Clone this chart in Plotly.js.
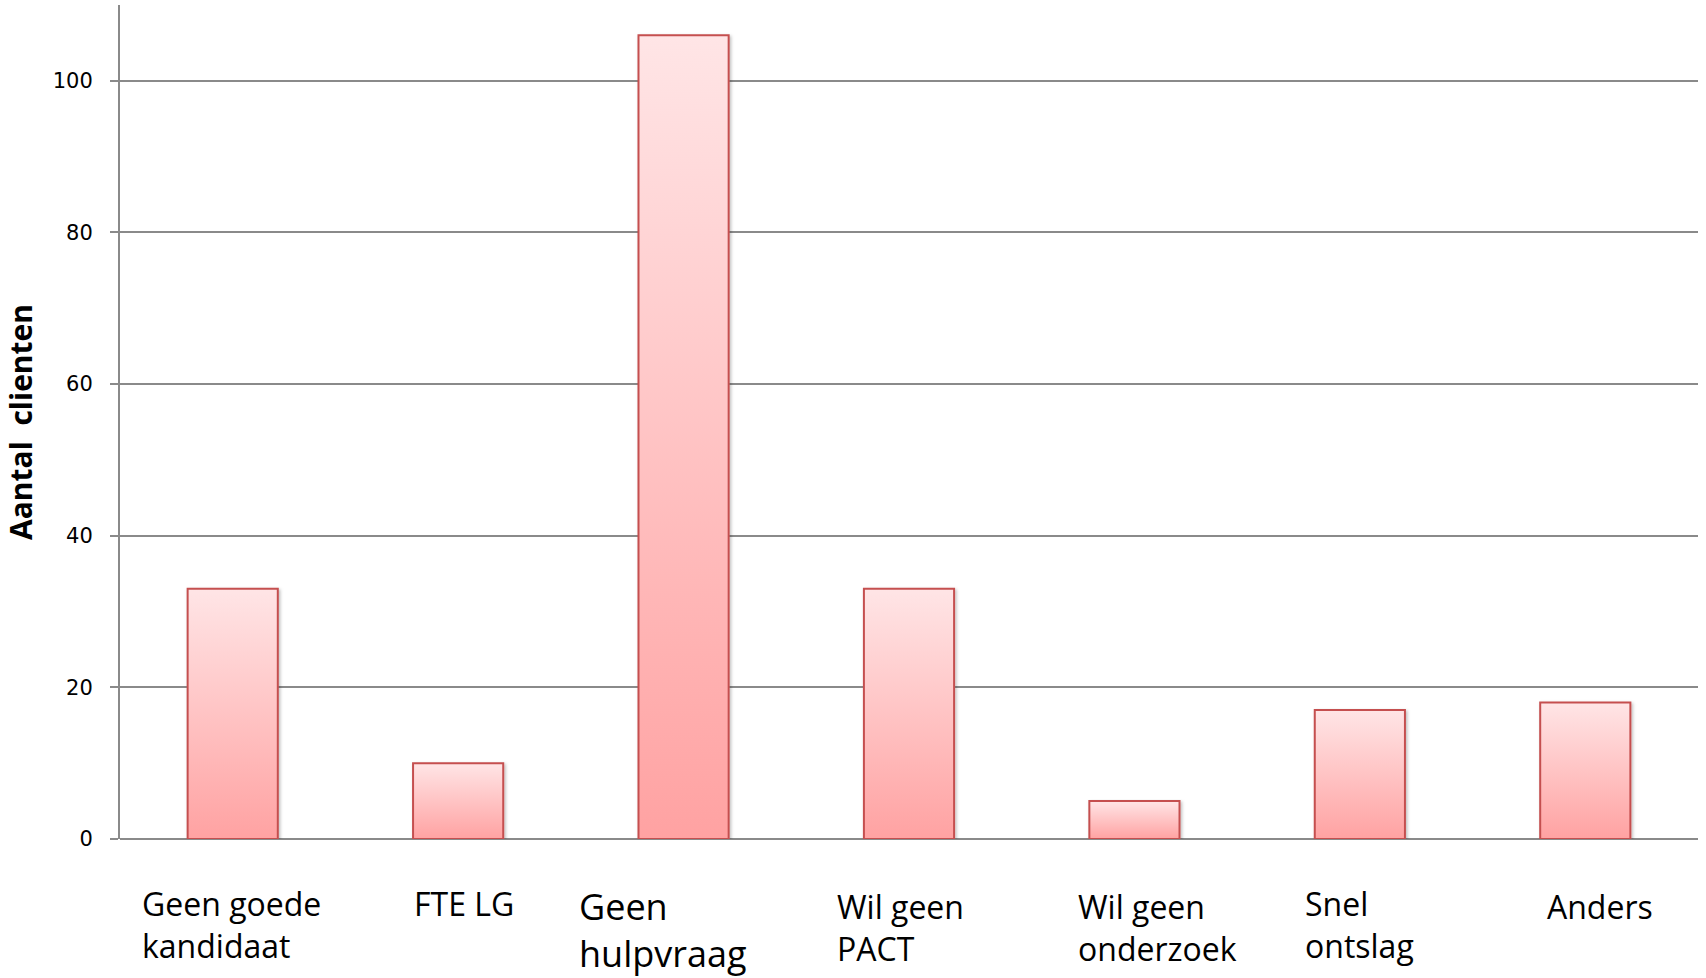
<!DOCTYPE html>
<html><head><meta charset="utf-8">
<script src="https://cdn.plot.ly/plotly-3.0.1.min.js"></script>
<style>html,body{margin:0;padding:0;background:#fff;} #chart{width:1706px;height:978px;}</style>
</head><body><div id="chart"></div>
<script>
// ---- data ----
const categories = ["Geen goede kandidaat", "FTE LG", "Geen hulpvraag", "Wil geen PACT", "Wil geen onderzoek", "Snel ontslag", "Anders"];
const categoryLabels = ["Geen goede<br>kandidaat", "FTE LG", "Geen<br>hulpvraag", "Wil geen<br>PACT", "Wil geen<br>onderzoek", "Snel<br>ontslag", "Anders"];
const values = [33, 10, 106, 33, 5, 17, 18];
const yTickValues = [0, 20, 40, 60, 80, 100];
const yAxisTitle = "Aantal  clienten";

// ---- label styling (positions / sizes, not data) ----
const labelXShift = [-93, -46, -107, -74, -58, -57, -40];
const labelYShift = [-41, -41, -41, -44, -44, -41, -44];
const labelSize = [32, 32, 36, 32, 32, 32, 32];

const gray = '#8a8a8a';

const trace = {
  type: 'bar',
  x: categories,
  y: values,
  marker: { color: '#ffc4c4', line: { color: '#c55050', width: 2 } },
  hoverinfo: 'x+y'
};

const annotations = categories.map((c, i) => ({
  x: c, y: 0, xref: 'x', yref: 'y',
  xanchor: 'left', yanchor: 'top', align: 'left',
  xshift: labelXShift[i], yshift: labelYShift[i],
  text: categoryLabels[i], showarrow: false,
  font: { family: 'Open Sans, sans-serif', size: labelSize[i], color: '#000' }
}));

const layout = {
  width: 1706, height: 978,
  margin: { l: 120, r: 8, t: 5, b: 139 },
  paper_bgcolor: '#fff', plot_bgcolor: '#fff',
  showlegend: false,
  bargap: 0.6,
  xaxis: {
    type: 'category', range: [-0.5, 6.5],
    showticklabels: false, showgrid: false, zeroline: false, showline: false, ticks: ''
  },
  yaxis: {
    range: [0, 110], tickvals: yTickValues,
    showgrid: true, gridcolor: gray, gridwidth: 2,
    zeroline: true, zerolinecolor: gray, zerolinewidth: 2,
    showline: true, linecolor: gray, linewidth: 2,
    ticks: 'outside', ticklen: 8, tickwidth: 2, tickcolor: gray,
    ticklabelstandoff: 13,
    tickfont: { family: 'DejaVu Sans, sans-serif', size: 21, color: '#000' },
    title: { text: yAxisTitle, standoff: 14, font: { family: 'Open Sans, sans-serif', size: 30, color: '#000', weight: 'bold' } }
  },
  annotations: annotations
};

Plotly.newPlot('chart', [trace], layout, { displayModeBar: false, staticPlot: true }).then(gd => {
  const svg = gd.querySelector('.main-svg');
  const ns = 'http://www.w3.org/2000/svg';
  let defs = svg.querySelector('defs');
  if (!defs) { defs = document.createElementNS(ns, 'defs'); svg.insertBefore(defs, svg.firstChild); }
  const grad = document.createElementNS(ns, 'linearGradient');
  grad.setAttribute('id', 'barGrad');
  grad.setAttribute('x1', '0'); grad.setAttribute('y1', '0');
  grad.setAttribute('x2', '0'); grad.setAttribute('y2', '1');
  [['0', '#ffe5e6'], ['1', '#ffa2a2']].forEach(([o, c]) => {
    const s = document.createElementNS(ns, 'stop');
    s.setAttribute('offset', o); s.setAttribute('stop-color', c);
    grad.appendChild(s);
  });
  defs.appendChild(grad);
  const filt = document.createElementNS(ns, 'filter');
  filt.setAttribute('id', 'barShadow');
  filt.setAttribute('x', '-20%'); filt.setAttribute('y', '-5%');
  filt.setAttribute('width', '140%'); filt.setAttribute('height', '110%');
  const ds = document.createElementNS(ns, 'feDropShadow');
  ds.setAttribute('dx', '1.5'); ds.setAttribute('dy', '1.5');
  ds.setAttribute('stdDeviation', '1.5');
  ds.setAttribute('flood-color', '#000'); ds.setAttribute('flood-opacity', '0.25');
  filt.appendChild(ds);
  defs.appendChild(filt);
  gd.querySelectorAll('.barlayer .point path').forEach(p => {
    p.style.fill = 'url(#barGrad)';
    p.setAttribute('filter', 'url(#barShadow)');
  });
});
</script>
</body></html>
